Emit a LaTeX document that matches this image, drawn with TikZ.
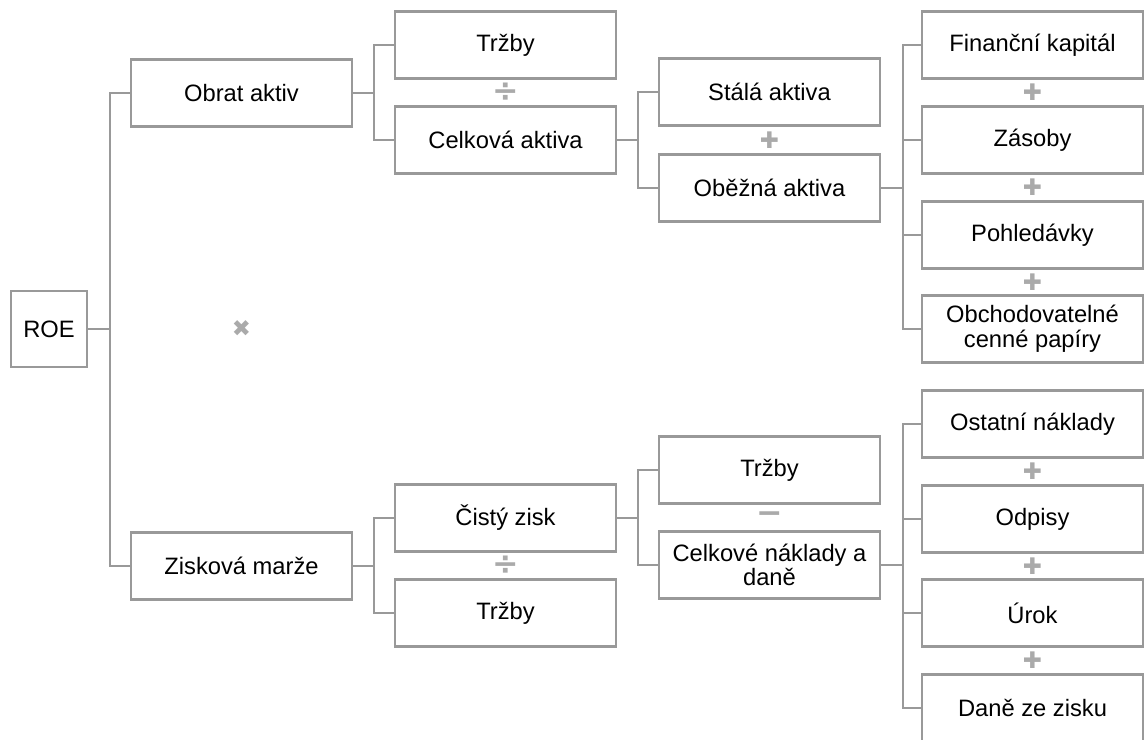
\documentclass[tikz,border=0pt]{standalone}
\usepackage{fontspec}
\setmainfont{Liberation Sans}
\newfontfamily\opfont{DejaVu Sans}
\usetikzlibrary{calc}
\definecolor{linegray}{HTML}{999999}
\definecolor{opgray}{HTML}{AAAAAA}

\begin{document}
\begin{tikzpicture}[x=0.02cm,y=-0.02cm,
  box/.style={draw=linegray,line width=1.2pt,minimum width=4.42cm,minimum height=1.34cm,
    align=center,inner sep=2pt,font=\fontsize{13.5}{14}\selectfont},
  op/.style={text=opgray,inner sep=0pt,font=\opfont\fontsize{13}{13}\selectfont},
  boldop/.style={op,font=\opfont\bfseries\fontsize{18}{18}\selectfont},
  link/.style={draw=linegray,line width=1.2pt}]
\useasboundingbox (0,0) rectangle (1144,740);

\node[box,minimum width=1.52cm,minimum height=1.52cm] (roe) at (49,329) {ROE};

\node[box] (obrat) at (241.5,93) {Obrat aktiv};
\node[box] (marze) at (241.5,566) {Zisková marže};

\node[box] (trzbyA) at (505.5,45) {Tržby};
\node[box] (celkova) at (505.5,140) {Celková aktiva};
\node[box] (cisty) at (505.5,518) {Čistý zisk};
\node[box] (trzbyB) at (505.5,613) {Tržby};

\node[box] (stala) at (769.5,92) {Stálá aktiva};
\node[box] (obezna) at (769.5,188) {Oběžná aktiva};
\node[box] (trzbyC) at (769.5,470) {Tržby};
\node[box] (naklady) at (769.5,565) {Celkové náklady a\\daně};

\node[box] (financni) at (1032.5,45) {Finanční kapitál};
\node[box] (zasoby) at (1032.5,140) {Zásoby};
\node[box] (pohledavky) at (1032.5,235) {Pohledávky};
\node[box] (obchod) at (1032.5,329) {Obchodovatelné\\cenné papíry};

\node[box] (ostatni) at (1032.5,424) {Ostatní náklady};
\node[box] (odpisy) at (1032.5,519) {Odpisy};
\node[box] (urok) at (1032.5,613) {Úrok};
\node[box] (dane) at (1032.5,708) {Daně ze zisku};

\foreach \n in {obrat,marze}
  \draw[link] (roe.east) -- ++(22,0) |- (\n.west);
\foreach \n in {trzbyA,celkova}
  \draw[link] (obrat.east) -- ++(21,0) |- (\n.west);
\foreach \n in {cisty,trzbyB}
  \draw[link] (marze.east) -- ++(21,0) |- (\n.west);
\foreach \n in {stala,obezna}
  \draw[link] (celkova.east) -- ++(21,0) |- (\n.west);
\foreach \n in {trzbyC,naklady}
  \draw[link] (cisty.east) -- ++(21,0) |- (\n.west);
\foreach \n in {financni,zasoby,pohledavky,obchod}
  \draw[link] (obezna.east) -- ++(22,0) |- (\n.west);
\foreach \n in {ostatni,odpisy,urok,dane}
  \draw[link] (naklady.east) -- ++(22,0) |- (\n.west);

\node[op] (krat) at (obrat |- roe) {✖};
\node[boldop] (delA) at ($(trzbyA)!0.5!(celkova)$) {÷};
\node[boldop] (delB) at ($(cisty)!0.5!(trzbyB)$) {÷};
\node[boldop] (minus) at ($(trzbyC)!0.5!(naklady)$) {−};
\node[op] (plusA) at ($(stala)!0.5!(obezna)$) {✚};
\foreach \a/\b in {financni/zasoby,zasoby/pohledavky,pohledavky/obchod,
  ostatni/odpisy,odpisy/urok,urok/dane}
  \node[op] (plus-\a) at ($(\a)!0.5!(\b)$) {✚};
\end{tikzpicture}
\end{document}
